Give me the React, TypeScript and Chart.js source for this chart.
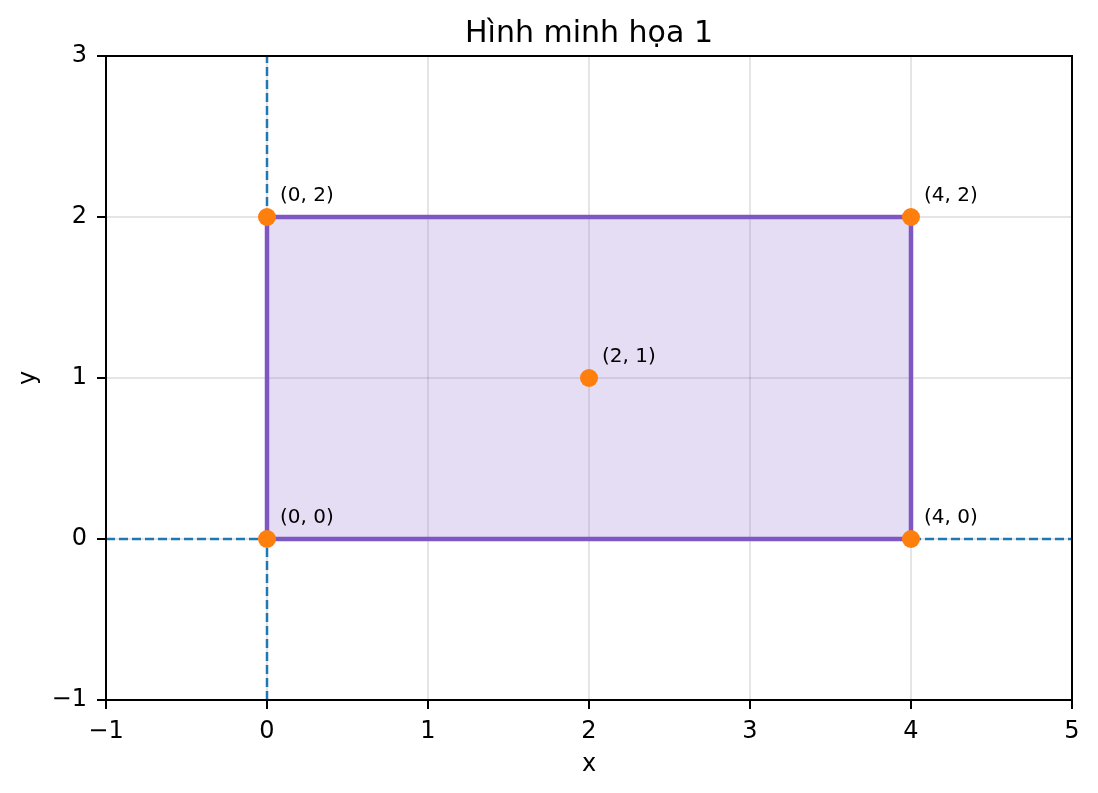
import React, { useEffect, useRef } from "react";
import { Chart, registerables } from "chart.js";

Chart.register(...registerables);

const TITLE = "Hình minh họa 1";
const X_LABEL = "x";
const Y_LABEL = "y";

const X_MIN = -1;
const X_MAX = 5;
const Y_MIN = -1;
const Y_MAX = 3;

// rectangle outline (closed)
const rectX = [0, 4, 4, 0, 0];
const rectY = [0, 0, 2, 2, 0];

// highlighted points
const pointX = [0, 4, 4, 0, 2];
const pointY = [0, 0, 2, 2, 1];

// reference lines
const hLineX = [-1, 5];
const hLineY = [0, 0];
const vLineX = [0, 0];
const vLineY = [-1, 3];

const FONT = "'DejaVu Sans', 'Noto Sans', sans-serif";

const fmt = (v: number) => (v < 0 ? "\u2212" + Math.abs(v) : String(v));

const zip = (xs: number[], ys: number[]) => xs.map((x, i) => ({ x, y: ys[i] }));

const framePlugin = {
  id: "frameAndText",
  afterDatasetsDraw(chart: any) {
    const { ctx, chartArea, scales } = chart;
    ctx.save();
    // annotations
    ctx.fillStyle = "#000";
    ctx.font = `20px ${FONT}`;
    ctx.textAlign = "left";
    ctx.textBaseline = "alphabetic";
    pointX.forEach((px, i) => {
      const x = scales.x.getPixelForValue(px);
      const y = scales.y.getPixelForValue(pointY[i]);
      ctx.fillText(`(${px}, ${pointY[i]})`, x + 13, y - 16);
    });
    // frame
    ctx.strokeStyle = "#000";
    ctx.lineWidth = 2;
    ctx.strokeRect(
      chartArea.left,
      chartArea.top,
      chartArea.right - chartArea.left,
      chartArea.bottom - chartArea.top
    );
    // title
    ctx.font = `30px ${FONT}`;
    ctx.textAlign = "center";
    ctx.fillText(TITLE, (chartArea.left + chartArea.right) / 2, 42);
    ctx.restore();
  },
};

export default function App() {
  const ref = useRef<HTMLCanvasElement | null>(null);

  useEffect(() => {
    if (!ref.current) return;
    const tickFont = { family: FONT, size: 24 };
    const chart = new Chart(ref.current, {
      type: "scatter",
      data: {
        datasets: [
          {
            label: "points",
            data: zip(pointX, pointY),
            showLine: false,
            pointRadius: 9,
            pointHoverRadius: 9,
            pointBackgroundColor: "#ff7f0e",
            pointBorderWidth: 0,
            backgroundColor: "#ff7f0e",
            order: 0,
          },
          {
            label: "rect",
            data: zip(rectX, rectY),
            showLine: true,
            pointRadius: 0,
            borderColor: "#7e57c2",
            borderWidth: 4.5,
            backgroundColor: "rgba(126, 87, 194, 0.2)",
            fill: "shape",
            tension: 0,
            order: 1,
          } as any,
          {
            label: "hline",
            data: zip(hLineX, hLineY),
            showLine: true,
            pointRadius: 0,
            borderColor: "#1f77b4",
            borderWidth: 2.5,
            borderDash: [9, 4],
            fill: false,
            order: 2,
          },
          {
            label: "vline",
            data: zip(vLineX, vLineY),
            showLine: true,
            pointRadius: 0,
            borderColor: "#1f77b4",
            borderWidth: 2.5,
            borderDash: [9, 4],
            fill: false,
            order: 2,
          },
        ],
      },
      options: {
        animation: false,
        responsive: true,
        maintainAspectRatio: false,
        layout: { padding: { top: 56, right: 26, left: 0, bottom: 0 } },
        plugins: {
          legend: { display: false },
          tooltip: { enabled: false },
          title: { display: false },
        },
        events: [],
        scales: {
          x: {
            type: "linear",
            min: X_MIN,
            max: X_MAX,
            ticks: {
              stepSize: 1,
              font: tickFont,
              color: "#000",
              padding: 8,
              callback: (v: any) => fmt(Number(v)),
            },
            grid: {
              color: "rgba(0,0,0,0.1)",
              lineWidth: 2,
              tickColor: "#000",
              tickLength: 9,
              tickWidth: 2,
              drawTicks: true,
            },
            border: { display: false },
            title: {
              display: true,
              text: X_LABEL,
              font: tickFont,
              color: "#000",
              padding: { top: 0, bottom: 14 },
            },
            afterFit: (scale: any) => {
              scale.height = 93;
            },
          },
          y: {
            type: "linear",
            min: Y_MIN,
            max: Y_MAX,
            ticks: {
              stepSize: 1,
              font: tickFont,
              color: "#000",
              padding: 10,
              callback: (v: any) => fmt(Number(v)),
            },
            grid: {
              color: "rgba(0,0,0,0.1)",
              lineWidth: 2,
              tickColor: "#000",
              tickLength: 9,
              tickWidth: 2,
              drawTicks: true,
            },
            border: { display: false },
            title: {
              display: true,
              text: Y_LABEL,
              font: tickFont,
              color: "#000",
              padding: { top: 14, bottom: 0 },
            },
            afterFit: (scale: any) => {
              scale.width = 106;
            },
          },
        },
      } as any,
      plugins: [framePlugin],
    });
    return () => chart.destroy();
  }, []);

  return (
    <div
      style={{
        position: "absolute",
        left: 0,
        top: 0,
        width: 1098,
        height: 793,
        background: "#fff",
      }}
    >
      <canvas ref={ref} />
    </div>
  );
}
